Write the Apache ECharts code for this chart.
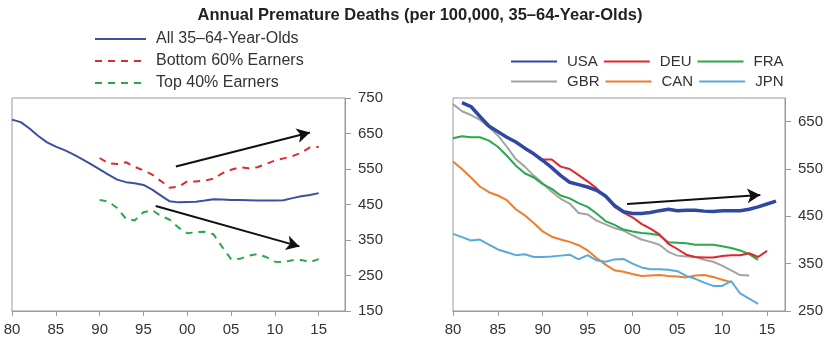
<!DOCTYPE html>
<html><head><meta charset="utf-8">
<script src="https://cdn.jsdelivr.net/npm/echarts@6/dist/echarts.min.js"></script>
<style>html,body{margin:0;padding:0;background:#fff}#c{width:840px;height:343px}</style>
</head><body><div id="c"></div>
<script>
// ---- Left panel data ----
const leftAllYears = [1980,1981,1982,1983,1984,1985,1986,1987,1988,1989,1990,1991,1992,1993,1994,1995,1996,1997,1998,1999,2000,2001,2002,2003,2004,2005,2006,2007,2008,2009,2010,2011,2012,2013,2014,2015];
const leftAll = [689,682,664,643,625,613,603,591,578,564,549,534,520,513,510,505,492,475,459,456,457,458,461,465,464,463,463,462,461,461,461,462,468,473,477,482];
const leftQuintYears = [1990,1991,1992,1993,1994,1995,1996,1997,1998,1999,2000,2001,2002,2003,2004,2005,2006,2007,2008,2009,2010,2011,2012,2013,2014,2015];
const leftBottom60 = [581,566,564,569,556,546,534,516,497,500,515,515,517,523,538,548,555,552,555,564,574,580,586,596,611,612];
const leftTop40 = [463,458,440,410,405,428,434,418,407,385,369,372,373,366,330,296,297,306,310,302,289,288,293,294,288,296];
const leftArrowUp = [[1998.7,557],[2014.0,653]];
const leftArrowDown = [[1996.4,446],[2012.8,332]];
const leftYTicks = [150,250,350,450,550,650,750];

// ---- Right panel data ----
const usaYears = [1981,1982,1983,1984,1985,1986,1987,1988,1989,1990,1991,1992,1993,1994,1995,1996,1997,1998,1999,2000,2001,2002,2003,2004,2005,2006,2007,2008,2009,2010,2011,2012,2013,2014,2015,2016];
const usa = [690,682,661,641,629,617,607,594,582,568,553,536,522,517,512,505,493,473,460,456,456,458,462,465,462,463,463,461,460,462,462,462,465,470,476,482];
const deuYears = [1990,1991,1992,1993,1994,1995,1996,1997,1998,1999,2000,2001,2002,2003,2004,2005,2006,2007,2008,2009,2010,2011,2012,2013,2014,2015];
const deu = [570,570,555,550,537,524,509,491,470,458,448,434,424,412,392,381,369,364,363,363,366,368,368,372,364,377];
const fraYears = [1980,1981,1982,1983,1984,1985,1986,1987,1988,1989,1990,1991,1992,1993,1994,1995,1996,1997,1998,1999,2000,2001,2002,2003,2004,2005,2006,2007,2008,2009,2010,2011,2012,2013,2014];
const fra = [615,619,617,617,610,597,578,557,541,532,518,508,494,488,478,470,456,440,432,422,418,415,413,410,395,394,393,390,390,390,387,383,378,370,358];
const gbrYears = [1980,1981,1982,1983,1984,1985,1986,1987,1988,1989,1990,1991,1992,1993,1994,1995,1996,1997,1998,1999,2000,2001,2002,2003,2004,2005,2006,2007,2008,2009,2010,2011,2012,2013];
const gbr = [687,672,664,654,638,621,597,571,555,536,520,502,487,477,457,454,441,433,425,420,410,401,396,390,375,367,365,364,358,354,346,336,326,325];
const canYears = [1980,1981,1982,1983,1984,1985,1986,1987,1988,1989,1990,1991,1992,1993,1994,1995,1996,1997,1998,1999,2000,2001,2002,2003,2004,2005,2006,2007,2008,2009,2010,2011];
const can = [566,550,532,513,501,494,484,465,452,436,418,407,401,396,389,378,362,348,336,333,328,324,325,326,324,323,321,325,326,322,316,311];
const jpnYears = [1980,1981,1982,1983,1984,1985,1986,1987,1988,1989,1990,1991,1992,1993,1994,1995,1996,1997,1998,1999,2000,2001,2002,2003,2004,2005,2006,2007,2008,2009,2010,2011,2012,2013,2014];
const jpn = [413,406,399,401,390,380,374,368,370,364,364,365,367,369,359,368,357,354,359,360,350,342,338,338,337,334,324,318,310,303,303,313,287,276,265];
const rightArrow = [[1999.4,476],[2014.25,495]];
const rightYTicks = [250,350,450,550,650];
const xTicks = [1980,1985,1990,1995,2000,2005,2010,2015];

const title = 'Annual Premature Deaths (per 100,000, 35–64-Year-Olds)';
const leftNames = ['All 35–64-Year-Olds','Bottom 60% Earners','Top 40% Earners'];

const FONT = '"Liberation Sans", Arial, sans-serif';
const AX = '#9a9a9a';
const LBL = '#333';

function zip(xs, ys){ return xs.map((x,i)=>[x, ys[i]]); }
function arrowML(a){
  return { silent:true, symbol:['none','arrow'], symbolSize:[11,13], label:{show:false},
    lineStyle:{color:'#111', width:2, type:'solid'},
    data:[[{coord:a[0]},{coord:a[1]}]] };
}
function xAxisCfg(gi, max){
  return { type:'value', gridIndex:gi, min:1980, max:max,
    axisLine:{show:true, onZero:false, lineStyle:{color:AX, width:1}},
    axisTick:{show:true, length:5, lineStyle:{color:AX}, customValues:xTicks},
    axisLabel:{color:LBL, fontSize:15, fontFamily:FONT, margin:11, customValues:xTicks,
      formatter:v=>String(v%100).padStart(2,'0')},
    splitLine:{show:false} };
}
function yAxisCfg(gi, min, max, ticks){
  return { type:'value', gridIndex:gi, position:'right', min:min, max:max,
    axisLine:{show:true, lineStyle:{color:AX, width:1}},
    axisTick:{show:true, length:6, lineStyle:{color:AX}, customValues:ticks},
    axisLabel:{color:LBL, fontSize:15, fontFamily:FONT, margin:13, customValues:ticks},
    splitLine:{show:false} };
}
const legendText = {fontFamily:FONT, fontSize:16, color:'#333', padding:[0,0,0,5]};
const legendTextR = {fontFamily:FONT, fontSize:15, color:'#333', padding:[0,0,0,5]};

const chart = echarts.init(document.getElementById('c'), null, {renderer:'canvas'});
chart.setOption({
  animation:false,
  title:{ text:title, left:'center', top:2,
    textStyle:{fontFamily:FONT, fontWeight:'bold', fontSize:16.5, color:'#222'} },
  legend:[
    { data:leftNames, orient:'vertical', left:94, top:31, padding:0, itemWidth:51, itemHeight:10, itemGap:6,
      itemStyle:{opacity:0}, textStyle:legendText },
    { data:['USA','DEU','FRA'], orient:'horizontal', left:510, top:54, padding:0, itemWidth:46, itemHeight:10, itemGap:5,
      itemStyle:{opacity:0}, textStyle:legendTextR },
    { data:['GBR','CAN','JPN'], orient:'horizontal', left:510, top:74, padding:0, itemWidth:46, itemHeight:10, itemGap:5,
      itemStyle:{opacity:0}, textStyle:legendTextR }
  ],
  grid:[
    { left:12, top:98, width:333, height:213, show:true, borderColor:AX, borderWidth:1, backgroundColor:'transparent' },
    { left:453, top:98, width:332, height:213, show:true, borderColor:AX, borderWidth:1, backgroundColor:'transparent' }
  ],
  xAxis:[ xAxisCfg(0, 2018), xAxisCfg(1, 2017) ],
  yAxis:[ yAxisCfg(0, 150, 750, leftYTicks), yAxisCfg(1, 250, 700, rightYTicks) ],
  series:[
    { name:leftNames[0], type:'line', xAxisIndex:0, yAxisIndex:0, data:zip(leftAllYears,leftAll), symbol:'none',
      lineStyle:{color:'#3b4fa3', width:2}, itemStyle:{color:'#3b4fa3'} },
    { name:leftNames[1], type:'line', xAxisIndex:0, yAxisIndex:0, data:zip(leftQuintYears,leftBottom60), symbol:'none',
      lineStyle:{color:'#de2a30', width:2, type:[7,6]}, itemStyle:{color:'#de2a30'}, markLine:arrowML(leftArrowUp) },
    { name:leftNames[2], type:'line', xAxisIndex:0, yAxisIndex:0, data:zip(leftQuintYears,leftTop40), symbol:'none',
      lineStyle:{color:'#2aa84c', width:2, type:[7,6]}, itemStyle:{color:'#2aa84c'}, markLine:arrowML(leftArrowDown) },
    { name:'GBR', type:'line', xAxisIndex:1, yAxisIndex:1, data:zip(gbrYears,gbr), symbol:'none',
      lineStyle:{color:'#a3a3a3', width:2}, itemStyle:{color:'#a3a3a3'} },
    { name:'CAN', type:'line', xAxisIndex:1, yAxisIndex:1, data:zip(canYears,can), symbol:'none',
      lineStyle:{color:'#ef7d2c', width:2}, itemStyle:{color:'#ef7d2c'} },
    { name:'JPN', type:'line', xAxisIndex:1, yAxisIndex:1, data:zip(jpnYears,jpn), symbol:'none',
      lineStyle:{color:'#5aaad9', width:2}, itemStyle:{color:'#5aaad9'} },
    { name:'FRA', type:'line', xAxisIndex:1, yAxisIndex:1, data:zip(fraYears,fra), symbol:'none',
      lineStyle:{color:'#2aa84c', width:2}, itemStyle:{color:'#2aa84c'} },
    { name:'DEU', type:'line', xAxisIndex:1, yAxisIndex:1, data:zip(deuYears,deu), symbol:'none',
      lineStyle:{color:'#e0262d', width:2}, itemStyle:{color:'#e0262d'} },
    { name:'USA', type:'line', xAxisIndex:1, yAxisIndex:1, data:zip(usaYears,usa), symbol:'none',
      lineStyle:{color:'#2f48a4', width:3.5}, itemStyle:{color:'#2f48a4'}, markLine:arrowML(rightArrow) }
  ]
});
</script></body></html>
